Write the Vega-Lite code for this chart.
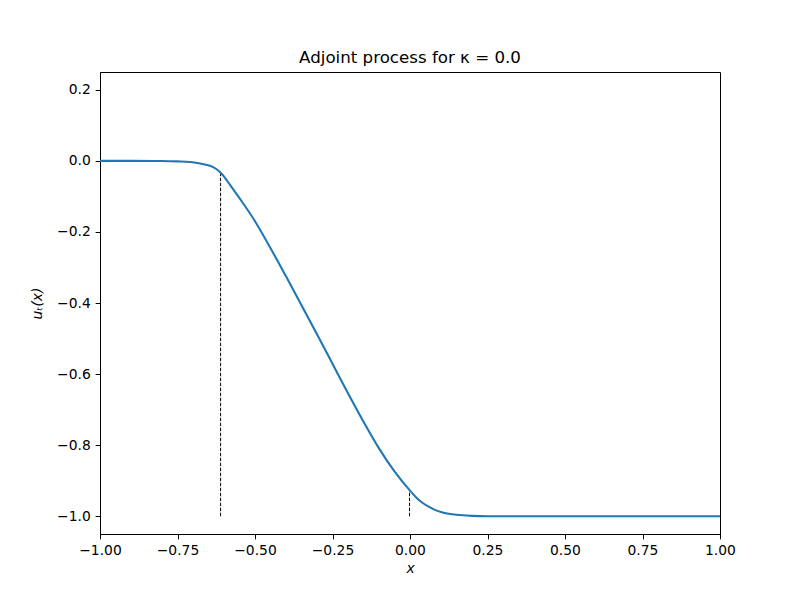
{
  "$schema": "https://vega.github.io/schema/vega-lite/v6.json",
  "width": 620,
  "height": 462,
  "autosize": {"type": "none"},
  "padding": {"left": 100, "top": 72, "right": 80, "bottom": 66},
  "background": "white",
  "title": {
    "text": "Adjoint process for κ = 0.0",
    "font": "DejaVu Sans",
    "fontSize": 16.67,
    "fontWeight": "normal",
    "color": "black",
    "anchor": "middle",
    "frame": "group",
    "baseline": "alphabetic",
    "offset": -8
  },
  "datasets": {
    "curve": [
      {"x": -1.0, "y": 0.0},
      {"x": -0.9, "y": 0.0},
      {"x": -0.8, "y": -0.0005},
      {"x": -0.75, "y": -0.0015},
      {"x": -0.71, "y": -0.003},
      {"x": -0.677, "y": -0.0075},
      {"x": -0.645, "y": -0.014},
      {"x": -0.625, "y": -0.023},
      {"x": -0.607, "y": -0.037},
      {"x": -0.58, "y": -0.068},
      {"x": -0.55, "y": -0.105},
      {"x": -0.5, "y": -0.17},
      {"x": -0.462, "y": -0.227},
      {"x": -0.43, "y": -0.277},
      {"x": -0.4, "y": -0.325},
      {"x": -0.35, "y": -0.406},
      {"x": -0.3, "y": -0.488},
      {"x": -0.25, "y": -0.571},
      {"x": -0.2, "y": -0.654},
      {"x": -0.15, "y": -0.734},
      {"x": -0.1, "y": -0.809},
      {"x": -0.05, "y": -0.874},
      {"x": 0.0, "y": -0.928},
      {"x": 0.02, "y": -0.947},
      {"x": 0.04, "y": -0.962},
      {"x": 0.06, "y": -0.973},
      {"x": 0.08, "y": -0.982},
      {"x": 0.1, "y": -0.988},
      {"x": 0.125, "y": -0.993},
      {"x": 0.15, "y": -0.996},
      {"x": 0.2, "y": -0.999},
      {"x": 0.25, "y": -1.0},
      {"x": 0.5, "y": -1.0},
      {"x": 1.0, "y": -1.0}
    ],
    "marks": [
      {"x": -0.611, "y": -1.0, "y2": -0.036},
      {"x": -0.0015, "y": -1.0, "y2": -0.928}
    ]
  },
  "layer": [
    {
      "data": {"name": "marks"},
      "mark": {"type": "rule", "color": "black", "strokeWidth": 1, "strokeDash": [3.5, 1.5]},
      "encoding": {
        "x": {"field": "x", "type": "quantitative", "scale": {"domain": [-1, 1], "nice": false, "zero": false}},
        "y": {"field": "y", "type": "quantitative", "scale": {"domain": [-1.05, 0.25], "nice": false, "zero": false}},
        "y2": {"field": "y2"}
      }
    },
    {
      "data": {"name": "curve"},
      "mark": {"type": "line", "color": "#1f77b4", "strokeWidth": 2.08, "interpolate": "monotone", "clip": true},
      "encoding": {
        "x": {
          "field": "x", "type": "quantitative",
          "scale": {"domain": [-1, 1], "nice": false, "zero": false},
          "axis": {"values": [-1, -0.75, -0.5, -0.25, 0, 0.25, 0.5, 0.75, 1], "format": ".2f", "title": "x", "titleFontStyle": "italic", "titlePadding": 4}
        },
        "y": {
          "field": "y", "type": "quantitative",
          "scale": {"domain": [-1.05, 0.25], "nice": false, "zero": false},
          "axis": {"values": [-1, -0.8, -0.6, -0.4, -0.2, 0, 0.2], "format": ".1f", "title": "uₜ(x)", "titleFontStyle": "italic", "titlePadding": 12}
        }
      }
    }
  ],
  "config": {
    "view": {"stroke": "black", "strokeWidth": 1},
    "axis": {
      "grid": false,
      "domainColor": "black",
      "domainWidth": 1,
      "tickColor": "black",
      "tickWidth": 1,
      "tickSize": 4.86,
      "labelPadding": 4.86,
      "labelFont": "DejaVu Sans",
      "labelFontSize": 13.89,
      "labelColor": "black",
      "labelFlush": false,
      "labelOverlap": false,
      "titleFont": "DejaVu Sans",
      "titleFontSize": 13.89,
      "titleFontWeight": "normal",
      "titleColor": "black"
    }
  }
}
